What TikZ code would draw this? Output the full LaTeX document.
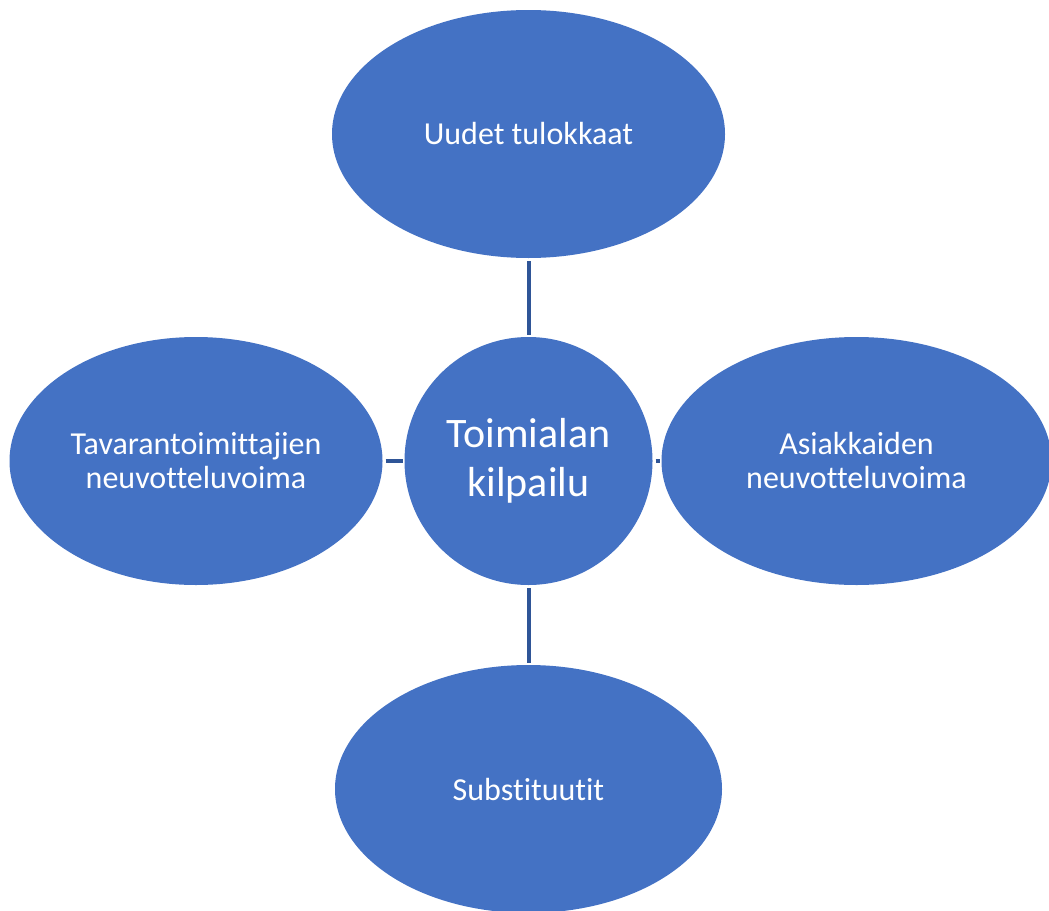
\documentclass[tikz,border=0pt]{standalone}
\usepackage{fontspec}
\setmainfont{Carlito}[Ligatures={NoCommon}]
\usepackage{tikz}
\usetikzlibrary{positioning, shapes.geometric}
\definecolor{vihrea}{HTML}{4472C4}
\definecolor{viiva}{HTML}{2F5597}

\begin{document}
\begin{tikzpicture}[
    tekija/.style={ellipse, fill=vihrea, text=white, inner sep=0pt, outer sep=0pt,
      minimum height=248pt, align=center, font=\fontsize{32}{34}\selectfont},
    keskus/.style={circle, fill=vihrea, text=white, inner sep=0pt, outer sep=0pt,
      minimum size=248pt, align=center, font=\fontsize{42}{49}\selectfont},
    yhteys/.style={draw=viiva, line width=4pt, shorten <=3pt, shorten >=2pt}
  ]
  \useasboundingbox (0pt,0pt) rectangle (1049pt,-910pt);

  \node [keskus] (kilpailu) at (528.5pt,-461pt) {Toimialan\\kilpailu};
  \node [tekija, minimum width=393pt, above=79pt of kilpailu] (tulokkaat) {Uudet tulokkaat};
  \node [tekija, minimum width=387pt, below=80pt of kilpailu] (substituutit) {Substituutit};
  \node [tekija, minimum width=373pt, left=22pt of kilpailu] (tavarantoimittajat) {Tavarantoimittajien\\neuvotteluvoima};
  \node [tekija, minimum width=390pt, right=9pt of kilpailu] (asiakkaat) {Asiakkaiden\\neuvotteluvoima};

  \draw [yhteys] (tulokkaat) -- (kilpailu);
  \draw [yhteys] (kilpailu) -- (substituutit);
  \draw [yhteys] (tavarantoimittajat) -- (kilpailu);
  \draw [yhteys] (kilpailu) -- (asiakkaat);
\end{tikzpicture}
\end{document}
